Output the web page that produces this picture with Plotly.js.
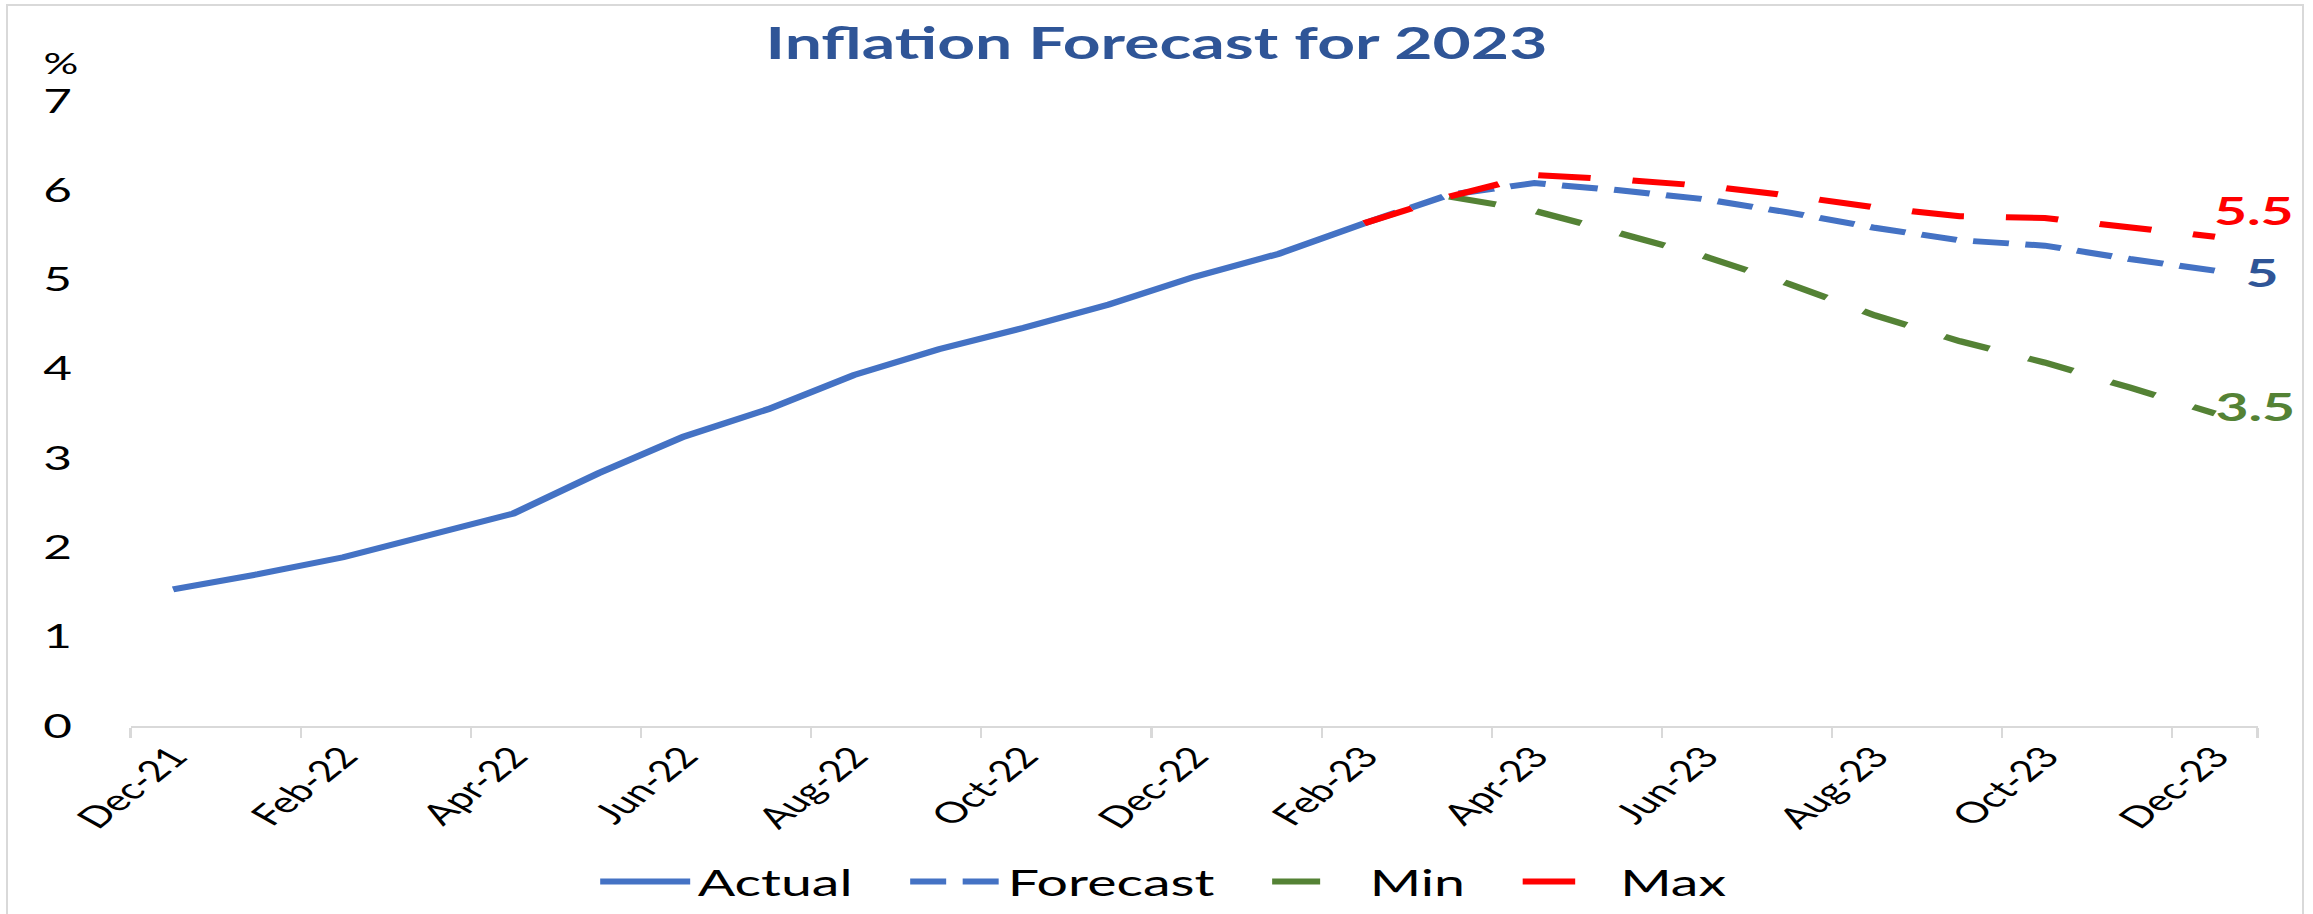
<!DOCTYPE html>
<html>
<head>
<meta charset="utf-8">
<script src="https://cdn.plot.ly/plotly-3.0.1.min.js"></script>
<style>
  html, body { margin: 0; padding: 0; background: #ffffff; overflow: hidden; }
  #frame { position: absolute; left: 6px; top: 4px; width: 2298px; height: 912px; border: 2px solid #d9d9d9; box-sizing: border-box; pointer-events: none; z-index: 5; }
  /* the reference chart is drawn horizontally stretched; reproduce that with a horizontal scale */
  #chart { position: absolute; left: 0; top: 0; width: 1542px; height: 914px; transform: scaleX(1.5); transform-origin: 0 0; }
</style>
</head>
<body>
<div id="chart"></div>
<div id="frame"></div>
<script>
// ---- data ----
const months = ['Dec-21','Jan-22','Feb-22','Mar-22','Apr-22','May-22','Jun-22','Jul-22','Aug-22','Sep-22','Oct-22','Nov-22',
                'Dec-22','Jan-23','Feb-23','Mar-23','Apr-23','May-23','Jun-23','Jul-23','Aug-23','Sep-23','Oct-23','Nov-23','Dec-23'];
const tickLabels = ['Dec-21','Feb-22','Apr-22','Jun-22','Aug-22','Oct-22','Dec-22','Feb-23','Apr-23','Jun-23','Aug-23','Oct-23','Dec-23'];
const actual   = [1.53,1.70,1.89,2.14,2.38,2.83,3.24,3.55,3.93,4.22,4.46,4.72,5.03,5.29,5.63,null,null,null,null,null,null,null,null,null,null];
const forecast = [null,null,null,null,null,null,null,null,null,null,null,null,null,null,5.63,5.95,6.08,6.00,5.90,5.75,5.58,5.44,5.38,5.23,5.10];
const minF     = [null,null,null,null,null,null,null,null,null,null,null,null,null,null,null,5.93,5.77,5.52,5.26,4.95,4.60,4.31,4.07,3.79,3.50];
const maxF     = [null,null,null,null,null,null,null,null,null,null,null,null,null,null,5.63,5.93,6.17,6.12,6.05,5.94,5.81,5.71,5.69,5.59,5.48];
const seriesNames = ['Actual','Forecast','Min','Max'];
const endLabels = {Forecast: '5', Min: '3.5', Max: '5.5'};

// ---- styles ----
const FONT = 'Lato, "Open Sans", sans-serif';
const BLUE = '#4472C4', GREEN = '#548235', RED = '#FF0000';
// extra spacing after a legend entry (non-breaking spaces), to spread the legend like the reference
const PAD = '\u00a0\u00a0\u00a0';

const traces = [
  {x: months, y: actual, name: seriesNames[0] + PAD, type: 'scatter', mode: 'lines',
   line: {color: BLUE, width: 6}},
  {x: months, y: forecast, name: seriesNames[1] + PAD, type: 'scatter', mode: 'lines',
   line: {color: BLUE, width: 6, dash: '24px,11px'}},
  {x: months, y: minF, name: seriesNames[2] + PAD, type: 'scatter', mode: 'lines',
   line: {color: GREEN, width: 6, dash: '32px,28px'}},
  {x: months, y: maxF, name: seriesNames[3], type: 'scatter', mode: 'lines',
   line: {color: RED, width: 6, dash: '35px,28px'}}
];

const last = months[months.length - 1];
const annotations = [
  {xref: 'paper', yref: 'paper', x: -0.033, y: 1.062, text: '%', showarrow: false,
   xanchor: 'center', yanchor: 'middle', font: {family: FONT, size: 29, color: '#000'}},
  {x: last, y: maxF[maxF.length-1], text: endLabels.Max, showarrow: false, xanchor: 'left', yanchor: 'middle',
   xshift: -3, yshift: 27, font: {family: FONT, size: 38, color: RED, weight: 'bold'}},
  {x: last, y: forecast[forecast.length-1], text: endLabels.Forecast, showarrow: false, xanchor: 'left', yanchor: 'middle',
   xshift: 18, yshift: -1, font: {family: FONT, size: 38, color: '#2F5597', weight: 'bold'}},
  {x: last, y: minF[minF.length-1], text: endLabels.Min, showarrow: false, xanchor: 'left', yanchor: 'middle',
   xshift: -2, yshift: 8, font: {family: FONT, size: 38, color: GREEN, weight: 'bold'}}
];

const layout = {
  width: 1542, height: 914,
  paper_bgcolor: 'rgba(0,0,0,0)', plot_bgcolor: 'rgba(0,0,0,0)',
  margin: {l: 87, r: 37, t: 101, b: 188},
  title: {text: 'Inflation Forecast for 2023', x: 0.5, xref: 'container', y: 0.952, yanchor: 'middle',
          font: {family: FONT, size: 44, color: '#2F5597', weight: 'bold'}},
  xaxis: {type: 'category', categoryorder: 'array', categoryarray: months,
          range: [-0.5, months.length - 0.5],
          tickmode: 'array', tickvals: tickLabels, ticktext: tickLabels,
          tickson: 'boundaries', ticks: 'outside', ticklen: 10, tickwidth: 1.4, tickcolor: '#d9d9d9',
          showline: true, linecolor: '#d9d9d9', linewidth: 2, showgrid: false, zeroline: false,
          tickangle: -50, tickfont: {family: FONT, size: 29, color: '#000'}},
  yaxis: {range: [0, 7], dtick: 1, tick0: 0, showgrid: false, zeroline: false, showline: false,
          ticks: '', ticklabelstandoff: 38, tickfont: {family: FONT, size: 33, color: '#000'}},
  showlegend: true,
  legend: {orientation: 'h', xref: 'container', x: 0.503, xanchor: 'center', yref: 'container', y: 1 - 882/914, yanchor: 'middle',
           font: {family: FONT, size: 37, color: '#000'}, itemwidth: 60},
  annotations: annotations
};

Plotly.newPlot('chart', traces, layout, {displayModeBar: false, staticPlot: true});
</script>
</body>
</html>
